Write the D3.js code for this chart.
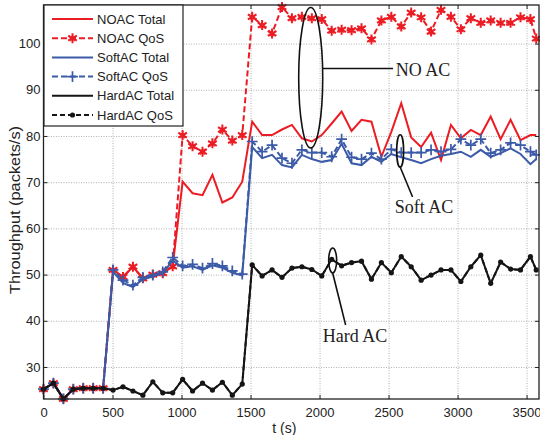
<!DOCTYPE html>
<html>
<head>
<meta charset="utf-8">
<script src="https://cdn.jsdelivr.net/npm/d3@7"></script>
<style>
  body { margin: 0; background: #fff; }
  svg { display: block; font-family: "Liberation Sans", Arial, sans-serif; }
  .grid line { stroke: #b0b0b0; stroke-dasharray: 1,1.5; }
  .grid path { display: none; }
  .ax path { display: none; }
  .ax line { stroke: #222; }
  .ax text { font-family: "Liberation Sans", Arial, sans-serif; font-size: 13px; fill: #222; }
  .note { font-family: "Liberation Serif", "Times New Roman", serif; font-size: 18px; fill: #222; }
</style>
</head>
<body>
<div id="chart"></div>
<script>
var width = 540, height = 435
var margin = {top: 5, right: 1, bottom: 36, left: 43.5}

// sample times (s)
var times = [0, 72, 144, 216, 288, 360, 432, 504, 576, 648, 720, 792, 864, 936, 1008,
  1080, 1152, 1224, 1296, 1368, 1440, 1512, 1584, 1656, 1728, 1800, 1872, 1944, 2016,
  2088, 2160, 2232, 2304, 2376, 2448, 2520, 2592, 2664, 2736, 2808, 2880, 2952, 3024,
  3096, 3168, 3240, 3312, 3384, 3456, 3528, 3570]

var noacTotal = [25.2, 26.5, 23.1, 25.2, 25.4, 25.4, 25.4,
  51.0, 49.5, 51.7, 49.2, 50.0, 50.3, 51.8,
  70.1, 67.6, 67.2, 71.6, 65.6, 66.7, 70.1,
  83.1, 80.2, 80.2, 81.4, 82.4, 79.5, 78.8, 80.2, 82.7,
  85.3, 81.1, 83.5, 83.1, 75.5, 80.9, 87.1, 79.7, 77.6, 80.7, 74.8, 82.4, 79.5, 81.3,
  80.2, 84.2, 79.3, 83.5, 79.1, 80.2, 80.2]

var noacQos = [25.2, 26.5, 23.1, 25.2, 25.4, 25.4, 25.4,
  51.0, 49.5, 51.7, 49.2, 50.0, 50.3, 51.8,
  80.2, 77.8, 76.6, 78.4, 81.4, 79.0, 80.2,
  105.8, 104.0, 102.2, 107.9, 105.5, 105.8, 105.5, 105.3, 102.8,
  103.0, 102.9, 103.3, 100.9, 105.0, 105.8, 103.7, 106.7, 105.7, 102.6, 107.3, 105.8,
  103.1, 105.5, 104.5, 105.0, 104.5, 104.5, 105.7, 105.3, 101.1]

var softTotal = [25.2, 26.5, 23.1, 25.2, 25.4, 25.4, 25.4,
  50.6, 48.2, 47.3, 49.0, 49.6, 50.3, 53.0, 51.5, 51.8, 51.0, 52.0, 51.5, 50.4, 49.8,
  77.6, 75.2, 75.9, 73.7, 73.2, 75.9, 75.0, 74.4, 74.8,
  78.3, 74.1, 73.7, 75.5, 74.4, 76.1, 75.4, 74.8, 74.1, 75.0, 75.7, 76.1, 76.6, 75.5,
  77.0, 75.5, 76.3, 77.3, 76.1, 73.9, 75.0]

var softQos = [25.2, 26.5, 23.1, 25.2, 25.4, 25.4, 25.4,
  51.0, 48.8, 47.7, 49.4, 49.9, 50.6, 53.7, 51.9, 52.2, 51.4, 52.4, 51.9, 50.8, 50.1,
  78.8, 76.6, 78.0, 75.2, 74.1, 77.0, 76.4, 76.4, 75.5,
  79.3, 75.4, 75.0, 76.3, 75.0, 77.1, 76.4, 76.4, 76.4, 77.0, 76.6, 77.1, 79.3, 78.0,
  79.3, 76.3, 77.0, 78.5, 78.0, 76.6, 75.9]

var hardTotal = [25.2, 26.5, 23.1, 25.2, 25.4, 25.4, 25.4,
  25.0, 25.7, 24.8, 23.9, 26.8, 24.4, 24.4, 27.3, 24.8, 26.5, 25.0, 26.7, 23.9, 26.3,
  52.1, 49.7, 51.0, 49.4, 51.4, 51.7, 51.1, 49.7, 53.3, 51.9, 52.6, 52.9, 49.0, 52.6,
  50.4, 53.9, 51.7, 48.8, 49.9, 51.0, 51.0, 48.5, 51.7, 54.2, 48.1, 52.7, 51.2, 51.0,
  53.9, 51.0]

var hardQos = [25.2, 26.5, 23.1, 25.2, 25.4, 25.4, 25.4,
  25.0, 25.7, 24.8, 23.9, 26.8, 24.4, 24.4, 27.3, 24.8, 26.5, 25.0, 26.7, 23.9, 26.3,
  52.1, 49.7, 51.0, 49.4, 51.4, 51.7, 51.1, 49.7, 53.3, 51.9, 52.6, 52.9, 49.0, 52.6,
  50.4, 53.9, 51.7, 48.8, 49.9, 51.0, 51.0, 48.5, 51.7, 54.2, 48.1, 52.7, 51.2, 51.0,
  53.9, 51.0]

var seriesNames = ["NOAC Total", "NOAC QoS", "SoftAC Total", "SoftAC QoS", "HardAC Total", "HardAC QoS"]
var xTicks = [0, 500, 1000, 1500, 2000, 2500, 3000, 3500]
var yTicks = [30, 40, 50, 60, 70, 80, 90, 100]

// annotation callouts, in data units
var notes = [
  {text: "NO AC", cx: 1936, cy: 92.6, rx: 87, ry: 15.2, x1: 2023, y1: 94.6, x2: 2532, y2: 94.6, tx: 2553, ty: 92.9},
  {text: "Soft AC", cx: 2584, cy: 76.75, rx: 25, ry: 3.5, x1: 2584, y1: 73.3, x2: 2674, y2: 66.8, tx: 2544, ty: 63.3},
  {text: "Hard AC", cx: 2095, cy: 53.05, rx: 29, ry: 2.7, x1: 2095, y1: 50.35, x2: 2189, y2: 39.1, tx: 2023, ty: 35.3}
]

var red = "#ec1c24", blue = "#3b5aa8", black = "#151515"

var series = [
  {name: seriesNames[0], values: noacTotal, color: red, dash: null, marker: null},
  {name: seriesNames[1], values: noacQos, color: red, dash: "6,3", marker: "star"},
  {name: seriesNames[2], values: softTotal, color: blue, dash: null, marker: null},
  {name: seriesNames[3], values: softQos, color: blue, dash: "6,3", marker: "plus"},
  {name: seriesNames[4], values: hardTotal, color: black, dash: null, marker: null},
  {name: seriesNames[5], values: hardQos, color: black, dash: "5,3", marker: "dot"}
]

var svg = d3.select("#chart")
  .append("svg")
  .attr("width", width)
  .attr("height", height)

var xScale = d3.scaleLinear()
  .domain([0, 3590])
  .range([margin.left, width - margin.right])

var yScale = d3.scaleLinear()
  .domain([23.07, 108.35])
  .range([height - margin.bottom, margin.top])

var plotW = width - margin.right - margin.left
var plotH = height - margin.bottom - margin.top

// Render grids
svg.append("g")
  .attr("class", "grid")
  .attr("transform", `translate(0,${height - margin.bottom})`)
  .call(d3.axisBottom(xScale).tickValues(xTicks.slice(1)).tickSize(-plotH).tickFormat(""))

svg.append("g")
  .attr("class", "grid")
  .attr("transform", `translate(${margin.left},0)`)
  .call(d3.axisLeft(yScale).tickValues(yTicks).tickSize(-plotW).tickFormat(""))

// Render axes (inside ticks on all four sides)
svg.append("g")
  .attr("class", "ax")
  .attr("transform", `translate(0,${height - margin.bottom})`)
  .call(d3.axisBottom(xScale).tickValues(xTicks).tickSize(-4).tickPadding(9).tickFormat(d3.format("d")))

svg.append("g")
  .attr("class", "ax")
  .attr("transform", `translate(0,${margin.top})`)
  .call(d3.axisTop(xScale).tickValues(xTicks).tickSize(-4).tickFormat(""))

svg.append("g")
  .attr("class", "ax")
  .attr("transform", `translate(${margin.left},0)`)
  .call(d3.axisLeft(yScale).tickValues(yTicks).tickSize(-4).tickPadding(3).tickFormat(d3.format("d")))

svg.append("g")
  .attr("class", "ax")
  .attr("transform", `translate(${width - margin.right},0)`)
  .call(d3.axisRight(yScale).tickValues(yTicks).tickSize(-4).tickFormat(""))

// Axis titles
svg.append("text")
  .attr("transform", `translate(20,${margin.top + plotH / 2 + 8}) rotate(-90)`)
  .attr("text-anchor", "middle")
  .attr("textLength", 168)
  .attr("lengthAdjust", "spacingAndGlyphs")
  .style("font-size", "14px")
  .style("fill", "#222")
  .text("Throughput (packets/s)")

svg.append("text")
  .attr("x", xScale(1745))
  .attr("y", 433)
  .attr("text-anchor", "middle")
  .style("font-size", "14px")
  .style("fill", "#222")
  .text("t (s)")

// Lines
var linesG = svg.append("g").attr("class", "lines")

var line = d3.line()
  .x(function(d, i) { return xScale(times[i]) })
  .y(function(d) { return yScale(d) })

var starSym = d3.symbol().type(d3.symbolAsterisk).size(70)
var starFill = d3.symbol().type(d3.symbolStar).size(22)
var plusSym = d3.symbol().type(d3.symbolPlus).size(40)

function drawMarker(sel, s) {
  if (s.marker == "star") {
    sel.append("path").attr("d", starFill).style("fill", s.color)
    sel.append("path").attr("d", starSym)
      .style("fill", "none").style("stroke", s.color).style("stroke-width", 2)
  } else if (s.marker == "plus") {
    sel.append("path").attr("d", plusSym)
      .style("fill", "none").style("stroke", s.color).style("stroke-width", 1.7)
  } else if (s.marker == "dot") {
    sel.append("circle").attr("r", 2.6).style("fill", s.color)
  }
}

series.forEach(function(s) {
  linesG.append("path")
    .datum(s.values)
    .attr("d", line)
    .style("fill", "none")
    .style("stroke", s.color)
    .style("stroke-width", 2)
    .style("stroke-dasharray", s.dash)

  if (s.marker) {
    linesG.append("g")
      .selectAll("g")
      .data(s.values)
      .enter()
      .append("g")
      .attr("transform", (d, i) => `translate(${xScale(times[i])},${yScale(d)})`)
      .each(function() { drawMarker(d3.select(this), s) })
  }
})

// Plot border
svg.append("rect")
  .attr("x", margin.left)
  .attr("y", margin.top)
  .attr("width", plotW)
  .attr("height", plotH)
  .style("fill", "none")
  .style("stroke", "#222")
  .style("stroke-width", 1.3)

// Annotations
var notesG = svg.append("g").attr("class", "notes")

notes.forEach(function(n) {
  notesG.append("ellipse")
    .attr("cx", xScale(n.cx))
    .attr("cy", yScale(n.cy))
    .attr("rx", xScale(n.cx + n.rx) - xScale(n.cx))
    .attr("ry", yScale(n.cy - n.ry) - yScale(n.cy))
    .style("fill", "none")
    .style("stroke", "#111")
    .style("stroke-width", 1.6)

  notesG.append("line")
    .attr("x1", xScale(n.x1))
    .attr("y1", yScale(n.y1))
    .attr("x2", xScale(n.x2))
    .attr("y2", yScale(n.y2))
    .style("stroke", "#111")
    .style("stroke-width", 1.6)

  var bg = notesG.append("rect").style("fill", "#fff")
  var t = notesG.append("text")
    .attr("class", "note")
    .attr("x", xScale(n.tx))
    .attr("y", yScale(n.ty))
    .text(n.text)
  var bb = t.node().getBBox()
  bg.attr("x", bb.x - 1).attr("y", bb.y).attr("width", bb.width + 2).attr("height", bb.height)
})

// Legend
var legend = svg.append("g").attr("class", "legend")

legend.append("rect")
  .attr("x", 44)
  .attr("y", 5)
  .attr("width", 139)
  .attr("height", 121)
  .style("fill", "#fff")
  .style("stroke", "#222")
  .style("stroke-width", 1.2)

series.forEach(function(s, k) {
  var ly = 19 + k * 19.2
  legend.append("line")
    .attr("x1", 52)
    .attr("x2", 93)
    .attr("y1", ly)
    .attr("y2", ly)
    .style("stroke", s.color)
    .style("stroke-width", 2)
    .style("stroke-dasharray", s.dash)

  if (s.marker) {
    var mg = legend.append("g").attr("transform", `translate(72.5,${ly})`)
    drawMarker(mg, s)
  }

  legend.append("text")
    .attr("x", 97)
    .attr("y", ly)
    .attr("dy", "0.35em")
    .style("font-size", "13px")
    .style("fill", "#222")
    .text(s.name)
})
</script>
</body>
</html>
